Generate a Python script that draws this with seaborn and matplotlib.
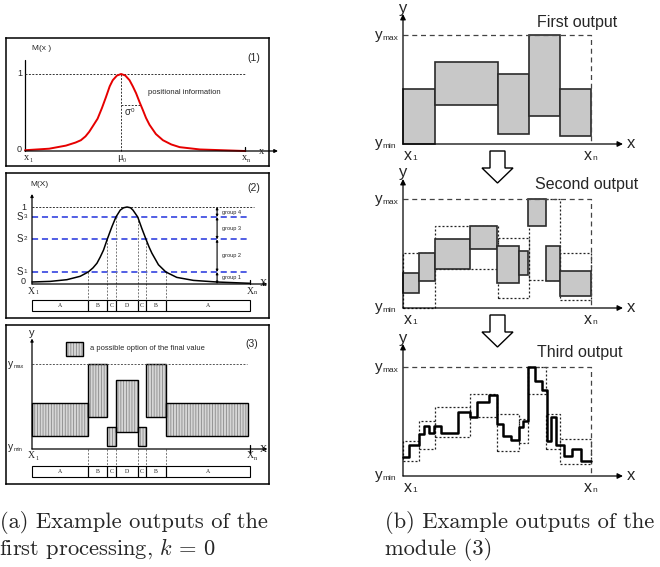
import matplotlib
matplotlib.use("Agg")
import matplotlib.pyplot as plt
from matplotlib.patches import Polygon, Rectangle
import seaborn as sns

# ---- (a) panel 1: positional information curve
p1_x = [0, 0.11, 0.186, 0.23, 0.254, 0.275, 0.292, 0.31, 0.33, 0.35, 0.368, 0.385, 0.399, 0.418,
        0.437, 0.456, 0.475, 0.49, 0.505, 0.52, 0.536, 0.55, 0.566, 0.595, 0.627, 0.665, 0.703, 0.795, 1.0]
p1_y = [0.01, 0.03, 0.07, 0.11, 0.14, 0.19, 0.25, 0.33, 0.42, 0.56, 0.70, 0.84, 0.92, 0.98,
        1.0, 0.98, 0.92, 0.84, 0.75, 0.64, 0.53, 0.43, 0.34, 0.22, 0.14, 0.085, 0.05, 0.02, 0.0]
mu0 = 0.437
sigma_end = 0.523
sigma_level = 0.6

# ---- (a) panel 2: thresholds and groups
p2_x = [0, 0.084, 0.16, 0.221, 0.258, 0.28, 0.298, 0.313, 0.328, 0.345, 0.366, 0.385, 0.405, 0.42,
        0.436, 0.452, 0.463, 0.485, 0.504, 0.523, 0.537, 0.55, 0.58, 0.614, 0.664, 0.74, 0.847, 1.0]
p2_y = [0.026, 0.034, 0.056, 0.10, 0.156, 0.21, 0.27, 0.35, 0.44, 0.58, 0.74, 0.87, 0.96, 0.99,
        1.0, 0.99, 0.96, 0.87, 0.72, 0.58, 0.48, 0.40, 0.25, 0.156, 0.086, 0.047, 0.026, 0.009]
s_levels = [0.156, 0.58, 0.87]
s_names = ["1", "2", "3"]
cuts = [0.258, 0.345, 0.385, 0.485, 0.523, 0.614]
cut_levels = [0.156, 0.58, 0.87, 0.87, 0.58, 0.156]
zone_labels = ["A", "B", "C", "D", "C", "B", "A"]
group_bounds = [1.0, 0.87, 0.58, 0.156, 0.0]
group_names = ["group 4", "group 3", "group 2", "group 1"]

# ---- (a) panel 3: possible final values per zone
p3_low = [0.157, 0.375, 0.03, 0.203, 0.03, 0.375, 0.157]
p3_high = [0.536, 1.0, 0.26, 0.812, 0.26, 1.0, 0.536]
p3_end = 0.99

# ---- (b) module outputs
out1_edges = [0, 0.169, 0.503, 0.668, 0.837, 1.0]
out1_low = [0, 0.357, 0.091, 0.253, 0.076]
out1_high = [0.503, 0.75, 0.643, 1.0, 0.503]

out2_edges = [0, 0.085, 0.169, 0.355, 0.501, 0.615, 0.666, 0.760, 0.835, 1.0]
out2_low = [0.142, 0.249, 0.357, 0.538, 0.231, 0.302, 0.754, 0.249, 0.108]
out2_high = [0.317, 0.502, 0.631, 0.754, 0.572, 0.523, 1.0, 0.572, 0.338]

out3_x = [0, 0.032, 0.083, 0.110, 0.137, 0.165, 0.204, 0.293, 0.355, 0.394, 0.458, 0.501, 0.533,
          0.574, 0.618, 0.639, 0.666, 0.702, 0.742, 0.764, 0.785, 0.812, 0.856, 0.897, 0.947, 1.0]
out3_y = [0.178, 0.283, 0.385, 0.462, 0.394, 0.462, 0.394, 0.585, 0.538, 0.677, 0.745, 0.477, 0.369,
          0.332, 0.446, 0.508, 1.0, 0.868, 0.791, 0.323, 0.538, 0.283, 0.185, 0.246, 0.138]

sns.set_style("white")
plt.rcParams["font.family"] = ["Liberation Sans", "DejaVu Sans"]
plt.rcParams["hatch.linewidth"] = 0.6
plt.rcParams["mathtext.fontset"] = "cm"

W, H = 660, 567
fig = plt.figure(figsize=(W / 100, H / 100), dpi=100)
ov = fig.add_axes([0, 0, 1, 1])
ov.set_xlim(0, W)
ov.set_ylim(H, 0)
ov.axis("off")

SANS = "Liberation Sans"
SERIF = "Liberation Serif"


def panel(box, x0, x1, y0, y1, frame=True):
    l, t, r, b = box
    ax = fig.add_axes([l / W, 1 - b / H, (r - l) / W, (b - t) / H])
    ax.set_xlim((l - x0) / (x1 - x0), (r - x0) / (x1 - x0))
    ax.set_ylim((y0 - b) / (y0 - y1), (y0 - t) / (y0 - y1))
    ax.set_xticks([])
    ax.set_yticks([])
    ax.patch.set_alpha(0)
    for s in ax.spines.values():
        s.set_visible(frame)
        s.set_color("k")
        s.set_linewidth(1.1)
    return ax


def ptext(x, y, s, size, family=SANS, ha="left", va="center", **kw):
    return fig.text(x / W, 1 - y / H, s, fontsize=size, family=family, ha=ha, va=va, **kw)


def subtext(x, y, main, sub, size, subsize, family=SANS, raise_=0.0):
    t = ptext(x, y, main, size, family=family)
    ov.annotate(sub, xy=(1.0, raise_), xycoords=t, fontsize=subsize, family=family,
                ha="left", va="bottom")
    return t


def arrow(ax, x0, y0, x1, y1, ms=6, lw=0.9, style="-|>"):
    ax.annotate("", xy=(x1, y1), xytext=(x0, y0), annotation_clip=False,
                arrowprops=dict(arrowstyle=style, color="k", lw=lw, shrinkA=0, shrinkB=0,
                                mutation_scale=ms))


def zone_strip(ax, top, bottom):
    edges = [0] + cuts + [1]
    lefts = edges[:-1]
    widths = [b - a for a, b in zip(edges[:-1], edges[1:])]
    ax.bar(lefts, [bottom - top] * len(lefts), width=widths, bottom=top, align="edge",
           fill=False, edgecolor="k", linewidth=0.8)
    for a, b, lab in zip(edges[:-1], edges[1:], zone_labels):
        ax.text((a + b) / 2, (top + bottom) / 2, lab, fontsize=4.2, family=SERIF,
                ha="center", va="center")


# ================= (a) panel 1
ax1 = panel((6, 38, 269, 166), 25, 245, 151, 74)
ax1.plot([0, 0], [0, 1.18], color="k", lw=0.9)
arrow(ax1, 0, 0, 1.15, 0, ms=5)
ax1.plot([1, 1], [0, 0.05], color="k", lw=0.9)
ax1.plot([0, 1], [1, 1], color="#333333", lw=0.7, dashes=(2, 1.5))
ax1.plot([mu0, mu0], [0, 1], color="#333333", lw=0.7, dashes=(2, 1.5))
ax1.plot([mu0, sigma_end], [sigma_level, sigma_level], color="#333333", lw=0.7, dashes=(2, 1.5))
sns.lineplot(x=p1_x, y=p1_y, ax=ax1, color="#e60000", lw=1.4, estimator=None, sort=False)
ptext(32, 48, "M(x )", 6)
ptext(254, 58, "(1)", 7.5, ha="center")
ptext(22, 74, "1", 6.5, ha="right")
ptext(22, 150, "0", 6.5, ha="right")
ptext(148, 93, "positional information", 5.5)
subtext(125, 112, "σ", "0", 7, 4.5, raise_=0.35)
subtext(24, 158, "x", "1", 7.5, 4.5, family=SERIF)
subtext(117, 158, "μ", "0", 7.5, 4.5, family=SERIF)
subtext(242, 158, "x", "n", 7.5, 4.5, family=SERIF)
ptext(259, 151, "x", 7.5, family=SERIF)

# ================= (a) panel 2
ax2 = panel((6, 173, 269, 318), 32, 250, 284, 207)
arrow(ax2, 0, 0, 0, 1.17, ms=4)
arrow(ax2, 0, 0, 1.08, 0, ms=5)
ax2.plot([1, 1], [0, 0.05], color="k", lw=0.9)
ax2.plot([0, 1.02], [1, 1], color="#333333", lw=0.7, dashes=(2, 1.5))
for lev in s_levels:
    ax2.plot([0, 0.99], [lev, lev], color="#2233dd", lw=1.1, dashes=(4, 2.5))
strip_top, strip_bot = -0.208, -0.351
for c, lev in zip(cuts, cut_levels):
    ax2.plot([c, c], [lev, strip_top], color="#777777", lw=0.7, dashes=(2, 1.5))
sns.lineplot(x=p2_x, y=p2_y, ax=ax2, color="k", lw=1.1, estimator=None, sort=False)
gx = 0.849
for hi, lo, name in zip(group_bounds[:-1], group_bounds[1:], group_names):
    arrow(ax2, gx, lo, gx, hi, ms=3, lw=0.8, style="<|-|>")
    ax2.text(gx + 0.022, (hi + lo) / 2, name, fontsize=4, ha="left", va="center")
zone_strip(ax2, strip_top, strip_bot)
ptext(39, 185, "M(X)", 6, ha="center")
ptext(254, 188, "(2)", 7.5, ha="center")
ptext(26, 207, "1", 6.5, ha="right")
ptext(26, 282, "0", 6.5, ha="right")
for lev, nm in zip(s_levels, s_names):
    subtext(17, 284 - lev * 77, "S", nm, 7, 4.5, raise_=0.3)
subtext(28, 291, "X", "1", 7, 4.5, family=SERIF)
subtext(247, 291, "X", "n", 7, 4.5, family=SERIF)
ptext(260, 284, "X", 7, family=SERIF)

# ================= (a) panel 3
ax3 = panel((6, 325, 269, 484), 32, 250, 449, 364)
arrow(ax3, 0, 0, 0, 1.3, ms=4)
arrow(ax3, 0, 0, 1.08, 0, ms=5)
ax3.plot([1, 1], [-0.05, 0.05], color="k", lw=0.9)
ax3.plot([0, 0.985], [1, 1], color="#555555", lw=0.7, dashes=(2, 1.5))
p3_edges = [0] + cuts + [p3_end]
p3_left = p3_edges[:-1]
p3_w = [b - a for a, b in zip(p3_edges[:-1], p3_edges[1:])]
p3_h = [h - l for l, h in zip(p3_low, p3_high)]
ax3.bar(p3_left, p3_h, width=p3_w, bottom=p3_low, align="edge", color="#d6d6d6",
        edgecolor="#8a8a8a", hatch="||||||", linewidth=0)
ax3.bar(p3_left, p3_h, width=p3_w, bottom=p3_low, align="edge", fill=False,
        edgecolor="k", linewidth=1.0)
s3_top, s3_bot = -0.2, -0.33
for c in cuts:
    ax3.plot([c, c], [0, s3_top], color="#777777", lw=0.7, dashes=(2, 1.5))
zone_strip(ax3, s3_top, s3_bot)
ov.add_patch(Rectangle((66, 342), 17, 14, facecolor="#d6d6d6", edgecolor="#8a8a8a",
                       hatch="||||||", linewidth=0))
ov.add_patch(Rectangle((66, 342), 17, 14, fill=False, edgecolor="k", linewidth=1.0))
ptext(90, 348, "a possible option of the final value", 5.4)
ptext(252, 344, "(3)", 7.5, ha="center")
ptext(32, 333, "y", 8, ha="center")
subtext(8, 364, "y", "max", 7.5, 4)
subtext(8, 447, "y", "min", 7.5, 4)
subtext(28, 456, "X", "1", 7, 4.5, family=SERIF)
subtext(247, 456, "X", "n", 7, 4.5, family=SERIF)
ptext(260, 449, "X", 7, family=SERIF)


# ================= (b) module outputs
def out_axes(box, y0, title, ty, tx):
    ax = panel(box, 403, 591, y0, y0 - 109, frame=False)
    top = (y0 - box[1] - 14) / 109
    arrow(ax, 0, 0, 0, top, ms=8)
    arrow(ax, 0, 0, 1.17, 0, ms=8)
    ax.plot([0, 1, 1], [1, 1, 0], color="#444444", lw=0.9, dashes=(4, 3))
    ptext(403, box[1] + 8, "y", 12, ha="center")
    ptext(tx, ty, title, 11.5)
    subtext(375, y0 - 109, "y", "max", 11, 6)
    subtext(375, y0 - 1, "y", "min", 11, 6)
    subtext(404, y0 + 11, "x", "1", 11.5, 6)
    subtext(584, y0 + 11, "x", "n", 11.5, 6)
    ptext(627, y0, "x", 12)
    return ax


def boxes(ax, edges, low, high, filled=True):
    left = edges[:-1]
    w = [b - a for a, b in zip(edges[:-1], edges[1:])]
    h = [hi - lo for lo, hi in zip(low, high)]
    if filled:
        ax.bar(left, h, width=w, bottom=low, align="edge", color="#c8c8c8",
               edgecolor="#2b2b2b", linewidth=1.2)
    else:
        ax.bar(left, h, width=w, bottom=low, align="edge", fill=False,
               edgecolor="#222222", linewidth=0.9, linestyle=(0, (1.6, 1.6)))


bx1 = out_axes((360, 0, 660, 165), 144, "First output", 22, 537)
boxes(bx1, out1_edges, out1_low, out1_high)

bx2 = out_axes((360, 165, 660, 330), 308, "Second output", 184, 535)
boxes(bx2, out1_edges, out1_low, out1_high, filled=False)
boxes(bx2, out2_edges, out2_low, out2_high)

bx3 = out_axes((360, 330, 660, 500), 476, "Third output", 352, 537)
boxes(bx3, out2_edges, out2_low, out2_high, filled=False)
sns.lineplot(x=out3_x, y=out3_y + out3_y[-1:], ax=bx3, color="k", lw=1.8,
             drawstyle="steps-post", estimator=None, sort=False)

# hollow arrows between outputs
for top in (151, 315):
    pts = [(490, top), (505, top), (505, top + 17), (513, top + 17), (497.5, top + 32),
           (482, top + 17), (490, top + 17)]
    ov.add_patch(Polygon(pts, closed=True, fill=False, edgecolor="k", linewidth=1.0))

# captions
cap = dict(family="cmr10", va="baseline", math_fontfamily="cm")
ptext(0, 528, "(a) Example outputs of the", 16.2, **cap)
ptext(-1, 555, "first processing, $k\\,=\\,0$", 16.2, **cap)
ptext(385, 528, "(b) Example outputs of the", 16.2, **cap)
ptext(385, 555, "module (3)", 16.2, **cap)

fig.savefig("out.png", dpi=100)
